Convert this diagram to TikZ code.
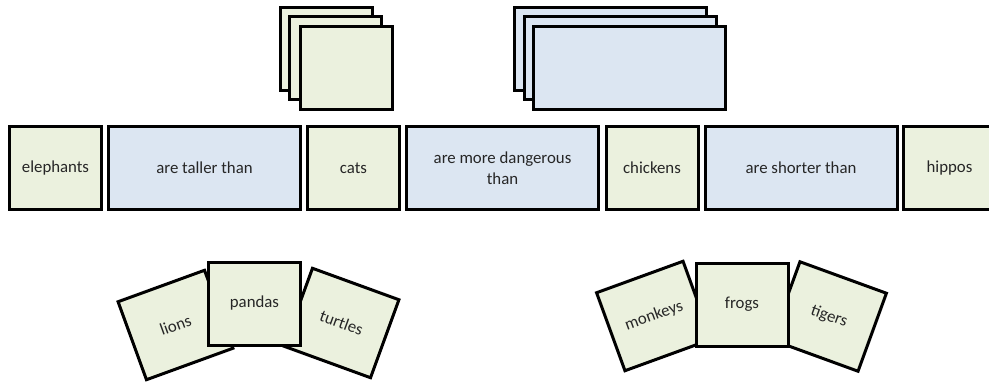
\documentclass[tikz,border=0pt]{standalone}
\usepackage{fontspec}
\setmainfont{Carlito}
\definecolor{cardgreen}{HTML}{EBF1DE}
\definecolor{cardblue}{HTML}{DCE6F2}
\definecolor{txt}{HTML}{262626}
\begin{document}
\begin{tikzpicture}[x=1pt,y=1pt,
 card/.style={draw=black, line width=3pt, minimum width=92pt, minimum height=83pt, inner sep=0pt,
   font=\fontsize{16.8}{20.5}\selectfont, text=txt, align=center},
 gcard/.style={card, fill=cardgreen},
 wcard/.style={card, fill=cardblue, minimum width=192pt}]
\clip (0,0) rectangle (989,381);
% top stacks
\node[gcard] (g1) at (326.5,331.5) {};
\node[gcard] (g2) at (335.5,323) {};
\node[gcard] (g3) at (346,312.5) {};
\node[wcard] (b1) at (610.5,331.5) {};
\node[wcard] (b2) at (620,323) {};
\node[wcard] (b3) at (629.5,313) {};
% main row
\node[gcard] (elephants) at (55.5,213) {elephants};
\node[wcard] (taller) at (204.5,213) {are taller than};
\node[gcard] (cats) at (353.5,213) {cats};
\node[wcard] (dangerous) at (502.5,213) {are more dangerous\\than};
\node[gcard] (chickens) at (652,213) {chickens};
\node[wcard] (shorter) at (801,213) {are shorter than};
\node[gcard] (hippos) at (949.5,213) {hippos};
% bottom left group
\node[gcard, rotate=20] (lions) at (175.5,56) {lions};
\node[gcard, rotate=-20] (turtles) at (341.5,58) {turtles};
\node[gcard] (pandas) at (254.5,77.5) {pandas};
% bottom right group
\node[gcard, rotate=20] (monkeys) at (654,65) {monkeys};
\node[gcard, rotate=-20] (tigers) at (829,64.5) {tigers};
\node[gcard] (frogs) at (742,76.5) {frogs};
\end{tikzpicture}
\end{document}
